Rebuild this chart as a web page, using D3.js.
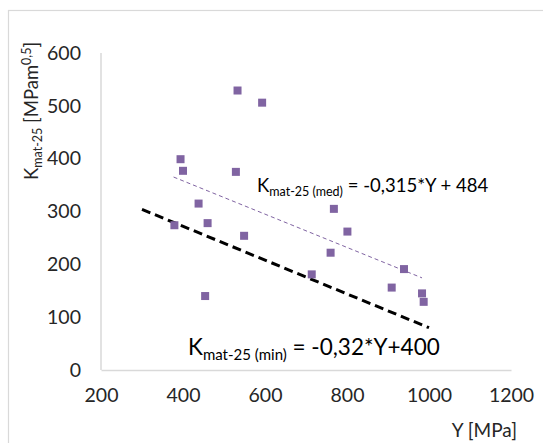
<!DOCTYPE html>
<html>
<head>
<meta charset="utf-8">
<script src="https://cdn.jsdelivr.net/npm/d3@7"></script>
<style>
  body { margin: 0; background: #fff; }
  svg { display: block; font-family: Lato, "Open Sans", sans-serif; }
</style>
</head>
<body>
<div id="chart"></div>
<script>
// data
var yieldMPa = [533, 593, 394, 400, 529, 438, 768, 801, 379, 460, 549, 760, 939, 714, 909, 983, 987, 454];
var kmat25   = [529, 506, 399, 377, 375, 315, 305, 262, 274, 278, 254, 222, 191, 181, 156, 145, 129, 140];
var xTicks = [200, 400, 600, 800, 1000, 1200];
var yTicks = [0, 100, 200, 300, 400, 500, 600];
// trend lines: K = slope*Y + intercept
var medFit = [-0.315, 484];
var minFit = [-0.32, 400];
var minRange = [300, 1000];

(function() {
    var W = 543, H = 443;
    var svg = d3.select("#chart").append("svg")
        .attr("width", W)
        .attr("height", H);

    // chart area border
    svg.append("rect")
        .attr("x", 8.5).attr("y", 10.5)
        .attr("width", W).attr("height", H)
        .attr("fill", "none")
        .attr("stroke", "#d9d9d9")
        .attr("stroke-width", 1.2);

    var x = d3.scaleLinear().domain([200, 1200]).range([101, 511]);
    var y = d3.scaleLinear().domain([0, 600]).range([370, 53]);

    // axes without tick marks
    var xAxis = svg.append("g")
        .attr("transform", "translate(0,370)")
        .call(d3.axisBottom(x).tickValues(xTicks).tickFormat(d3.format("d")).tickSize(0).tickPadding(18));
    var yAxis = svg.append("g")
        .attr("transform", "translate(101,0)")
        .call(d3.axisLeft(y).tickValues(yTicks).tickFormat(d3.format("d")).tickSize(0).tickPadding(20));

    [xAxis, yAxis].forEach(function(g) {
        g.select(".domain").attr("stroke", "#d9d9d9").attr("stroke-width", 1.5);
        g.selectAll("text")
            .attr("font-family", "Lato, sans-serif")
            .attr("font-size", 19.5)
            .attr("fill", "#262626");
    });
    yAxis.select(".domain").attr("d", "M0," + y(600) + "V" + y(0));

    // min trend line (thick black dashed)
    svg.append("line")
        .attr("x1", x(minRange[0])).attr("y1", y(minFit[0] * minRange[0] + minFit[1]))
        .attr("x2", x(minRange[1])).attr("y2", y(minFit[0] * minRange[1] + minFit[1]))
        .attr("stroke", "#000")
        .attr("stroke-width", 3)
        .attr("stroke-dasharray", "9,5");

    // median trend line over the data range
    var ext = d3.extent(yieldMPa);
    svg.append("line")
        .attr("x1", x(ext[0] - 2)).attr("y1", y(medFit[0] * (ext[0] - 2) + medFit[1]))
        .attr("x2", x(ext[1] - 4)).attr("y2", y(medFit[0] * (ext[1] - 4) + medFit[1]))
        .attr("stroke", "#8064a2")
        .attr("stroke-width", 1)
        .attr("stroke-dasharray", "4,3");

    // points
    var s = 8;
    svg.append("g").selectAll("rect")
        .data(yieldMPa)
        .enter().append("rect")
        .attr("x", function(d) { return x(d) - s / 2; })
        .attr("y", function(d, i) { return y(kmat25[i]) - s / 2; })
        .attr("width", s).attr("height", s)
        .attr("fill", "#8064a2");

    // equation labels
    var med = svg.append("text")
        .attr("x", 257).attr("y", 192)
        .attr("font-size", 18.5)
        .attr("fill", "#000");
    med.append("tspan").text("K");
    med.append("tspan").attr("font-size", 12.5).attr("dy", 4).text("mat-25 (med)");
    med.append("tspan").attr("dy", -4).text(" = -0,315*Y + 484");

    var mn = svg.append("text")
        .attr("x", 188).attr("y", 355)
        .attr("font-size", 22.5)
        .attr("fill", "#000");
    mn.append("tspan").text("K");
    mn.append("tspan").attr("font-size", 15).attr("dy", 5).text("mat-25 (min)");
    mn.append("tspan").attr("dy", -5).text(" = -0,32*Y+400");

    // axis titles
    svg.append("text")
        .attr("x", 517).attr("y", 437)
        .attr("text-anchor", "end")
        .attr("font-size", 19)
        .attr("fill", "#262626")
        .text("Y [MPa]");

    var yt = svg.append("text")
        .attr("transform", "translate(38,180) rotate(-90)")
        .attr("font-size", 18.5)
        .attr("fill", "#262626");
    yt.append("tspan").text("K");
    yt.append("tspan").attr("font-size", 12.5).attr("dy", 4).text("mat-25");
    yt.append("tspan").attr("dy", -4).text(" [MPam");
    yt.append("tspan").attr("font-size", 12.5).attr("dy", -7).text("0,5");
    yt.append("tspan").attr("dy", 7).text("]");
})();
</script>
</body>
</html>
